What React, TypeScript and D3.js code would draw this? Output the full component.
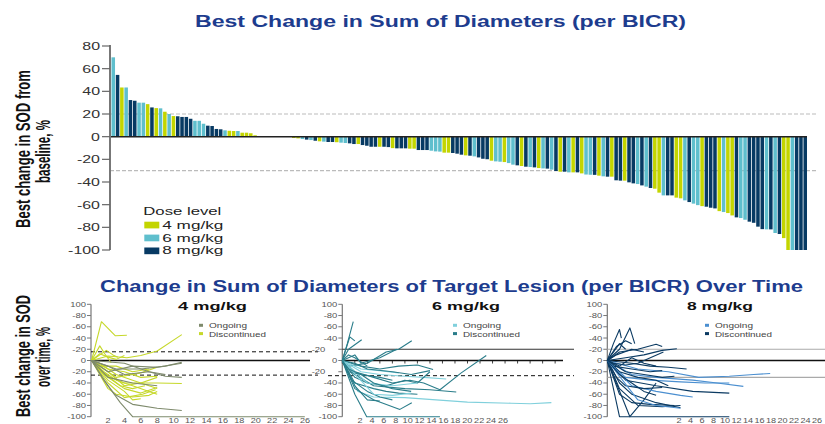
import React from 'react';
import * as d3 from 'd3';

const W = 825;
const H = 424;

// ---------- Top waterfall: best change in SOD (%) per patient, sorted ----------
const bestChange: number[] = [
  70, 54.5, 43.4, 43.4, 32.3, 31.7, 30, 30, 28.7, 25.8, 25.2, 25, 22, 20, 18.2, 18, 17.4, 17.4, 15.8, 14,
  14, 11.4, 9.7, 9.4, 6.8, 6.5, 5.6, 5.2, 5, 5, 3.5, 3.5, 3, 1.2,
  0, 0, 0, 0, 0, 0, 0, 0,
  -1.2, -1.5, -2.1, -2.6, -3, -3.6, -4.1, -4.4, -4.7, -4.7, -4.9, -5.3, -5.6, -5.9, -6.5, -6.5, -7.4, -8, -8.9, -8.9,
  -8.9, -8.9, -9.2, -10.1, -10.3, -10.3, -10.3, -10.6, -10.6, -11.8, -11.8, -11.8, -12.4, -13, -13.2, -14.1, -14.1,
  -14.4, -15, -15.9, -16.5, -16.8, -17.4, -18.3, -19.5, -19.9, -21.2, -21.8, -22.1, -22.4, -23.3, -24.7, -25.3, -25.9, -26.5, -26.8, -27.1,
  -27.7, -28, -28.2, -29.1, -30.3, -30.9, -30.9, -31.5, -31.5, -31.5, -32.4, -33.4, -33.6, -33.7, -34.4, -35, -35.3, -35.3, -38.5, -38.8,
  -38.8, -40.3,
  -41.2, -41.8, -43, -44.1, -45.3, -45.9, -49.4, -51.8, -51.8, -51.8, -53.8, -54.4, -56.2, -57.7, -59.1, -60.4, -61.3, -61.8, -62.7, -63.3,
  -65.7, -66.5, -67.4, -69.5, -71.2, -71.8, -73.3, -75, -76, -79.4, -81.6, -81.8, -81.8, -85, -85.9, -89.5, -100, -100, -100, -100, -100,
];
const doseMgKg: number[] = [
  6, 8, 4, 6, 8, 8, 6, 6, 4, 8, 4, 6, 4, 6, 4, 8, 8, 8, 8, 6,
  6, 6, 8, 8, 8, 8, 6, 4, 4, 6, 4, 4, 4, 4,
  4, 4, 4, 4, 4, 4, 4, 4,
  4, 4, 6, 8, 6, 8, 4, 6, 8, 8, 4, 6, 6, 8, 8, 4, 8, 8, 8, 8,
  4, 8, 8, 4, 8, 8, 8, 4, 4, 8, 8, 8, 6, 6, 6, 4, 4,
  8, 8, 8, 4, 8, 6, 8, 8, 8, 4, 6, 6, 4, 6, 6, 8, 4, 8, 6, 8,
  4, 6, 8, 6, 8, 4, 8, 6, 4, 8, 4, 6, 6, 8, 4, 6, 8, 4, 8, 8,
  4, 8,
  8, 6, 8, 6, 8, 4, 4, 6, 8, 8, 4, 4, 6, 8, 6, 6, 4, 8, 8, 8,
  4, 6, 4, 4, 8, 6, 6, 8, 8, 8, 8, 6, 8, 6, 8, 4, 4, 6, 8, 8, 8,
];
const doseLevels = [4, 6, 8];
const doseLabels = ['4 mg/kg', '6 mg/kg', '8 mg/kg'];
const topTicks = [80, 60, 40, 20, 0, -20, -40, -60, -80, -100];
const topRefLines = [20, -30];

// ---------- Bottom spaghetti plots (month, % change) ----------
type Line = { s: 'O' | 'D'; p: [number, number][] };
const lines4mg: Line[] = [
  { s: 'D', p: [[0, 0], [1.2, 69], [2.9, 44], [4.3, 45]] },
  { s: 'D', p: [[0, 0], [1, 26], [1.6, 12], [2.4, -4]] },
  { s: 'D', p: [[0, 0], [1.8, 18], [2.6, 10], [3.2, 6]] },
  { s: 'D', p: [[0, 0], [2, 8], [4.3, 5], [6, 9], [8, 17], [11, 46]] },
  { s: 'D', p: [[0, 0], [1, 12], [2, 6], [3, 2], [4, 9]] },
  { s: 'D', p: [[0, 0], [1.5, -20], [3, -35], [5, -45], [7, -55], [8, -60]] },
  { s: 'D', p: [[0, 0], [2, -30], [4, -50], [6, -58], [8, -48]] },
  { s: 'D', p: [[0, 0], [2, -40], [4, -66], [6.2, -60], [7.8, -52]] },
  { s: 'D', p: [[0, 0], [1.5, -25], [4, -40], [8, -40], [11, -41]] },
  { s: 'D', p: [[0, 0], [2, -15], [4, -20], [6, -30], [8, -28]] },
  { s: 'D', p: [[0, 0], [1, -10], [3, -10], [5, -20], [7, -15]] },
  { s: 'D', p: [[0, 0], [2, -50], [3, -60], [5, -65], [7, -62], [8, -55]] },
  { s: 'D', p: [[0, 0], [2, -20], [4, -45], [6, -40], [8, -30]] },
  { s: 'D', p: [[0, 0], [3, -30], [6, -22], [8, -12]] },
  { s: 'D', p: [[0, 0], [2, -35], [4, -55], [5, -70], [6, -68]] },
  { s: 'D', p: [[0, 0], [1, -5], [3, -25], [5, -35], [7, -45], [8, -50]] },
  { s: 'D', p: [[0, 0], [2, -28], [3.5, -45], [5, -50], [6.5, -45]] },
  { s: 'O', p: [[0, 0], [2, -45], [3.5, -75], [5, -100], [26, -100]] },
  { s: 'O', p: [[0, 0], [1.5, -35], [2.8, -60], [5, -78], [8, -85], [11, -89]] },
  { s: 'O', p: [[0, 0], [2, -20], [5, -10], [8, -12], [11, -5]] },
  { s: 'O', p: [[0, 0], [2, -10], [4, -25], [7, -20], [9, -28], [11, -30]] },
  { s: 'O', p: [[0, 0], [3, -15], [6, -15], [9, -10], [11, -3]] },
  { s: 'O', p: [[0, 0], [2, -30], [5, -40], [8, -45]] },
  { s: 'O', p: [[0, 0], [4, -5], [7, -20], [9, -25]] },
];
const lines6mg: Line[] = [
  { s: 'D', p: [[0, 0], [0.8, 30], [1.75, 69]] },
  { s: 'D', p: [[0, 0], [1.2, 42], [2, 35]] },
  { s: 'D', p: [[0, 0], [1, 20], [3.1, 37]] },
  { s: 'D', p: [[0, 0], [2, 10], [3, -5], [6, 5], [8.7, 20]] },
  { s: 'D', p: [[0, 0], [1, -10], [4, -5], [7, 15], [9, 20], [11.1, 35]] },
  { s: 'D', p: [[0, 0], [2, -20], [5, -30], [8, -40], [10.8, -35], [13, -40], [15.6, -52], [19, -22], [23, 9]] },
  { s: 'D', p: [[0, 0], [2, -25], [5, -45], [10, -50], [14, -52], [18.2, -56]] },
  { s: 'O', p: [[0, 0], [2.5, -55], [5, -65], [10, -66], [15, -70], [20, -74], [27, -76], [30, -77], [33.4, -75]] },
  { s: 'O', p: [[0, 0], [3, -20], [6, -25], [10, -28], [13, -30], [16.6, -33]] },
  { s: 'D', p: [[0, 0], [2, -60], [3.9, -100], [15.6, -100]] },
  { s: 'D', p: [[0, 0], [2, -50], [5, -70], [9.2, -87], [11.1, -75]] },
  { s: 'D', p: [[0, 0], [1.5, -35], [4, -55], [6, -65], [8, -70]] },
  { s: 'D', p: [[0, 0], [3, -10], [6, -15], [9, -10], [12, -8], [14.5, -16]] },
  { s: 'D', p: [[0, 0], [2, -30], [4, -40], [7, -45], [10, -35], [12, -40], [14, -20]] },
  { s: 'O', p: [[0, 0], [4, -40], [8, -45], [12, -40]] },
  { s: 'O', p: [[0, 0], [3, -15], [6, -18], [9, -22]] },
  { s: 'D', p: [[0, 0], [2, -40], [5, -50], [7, -55], [9, -58], [12, -60]] },
  { s: 'D', p: [[0, 0], [1, -20], [3, -25], [6, -30], [8, -35]] },
  { s: 'D', p: [[0, 0], [1, 10], [2, 5], [4, -10]] },
  { s: 'D', p: [[0, 0], [2, -5], [4, -15], [8, -20], [11, -25], [14, -18]] },
  { s: 'O', p: [[0, 0], [5, -60], [8, -62], [11, -58]] },
  { s: 'D', p: [[0, 0], [2, -45], [4, -70], [6, -72]] },
  { s: 'D', p: [[0, 0], [1, -15], [3, -25], [5, -40], [8, -50], [11, -55]] },
];
const lines8mg: Line[] = [
  { s: 'D', p: [[0, 0], [1, 30], [2, 55], [2.3, 40]] },
  { s: 'D', p: [[0, 0], [2, 20], [3.7, 58], [4.5, 30]] },
  { s: 'D', p: [[0, 0], [1.5, 25], [3, 35], [4, 30]] },
  { s: 'D', p: [[0, 0], [2, 15], [5, 20], [8, 29], [9, 25]] },
  { s: 'D', p: [[0, 0], [3, 5], [6, 10], [9, 18], [11.4, 21]] },
  { s: 'D', p: [[0, 0], [1.5, 10], [4, 20], [6, 15]] },
  { s: 'D', p: [[0, 0], [2, -100], [20, -100]] },
  { s: 'D', p: [[0, 0], [3.7, -100], [6, -70], [8, -40]] },
  { s: 'D', p: [[0, 0], [2, -40], [4, -60], [8, -75], [12, -84]] },
  { s: 'D', p: [[0, 0], [2, -50], [5, -80], [9, -82], [12, -80]] },
  { s: 'O', p: [[0, 0], [5, -15], [10, -20], [15, -30], [20, -28], [24, -25], [26.7, -23]] },
  { s: 'O', p: [[0, 0], [4, -25], [8, -30], [14, -35], [18, -40], [22.3, -46]] },
  { s: 'O', p: [[0, 0], [3, -30], [7, -35], [12, -38], [16, -40], [20, -40]] },
  { s: 'D', p: [[0, 0], [3, -35], [8, -45], [14, -55], [20, -58]] },
  { s: 'D', p: [[0, 0], [2, -20], [5, -30], [8, -35], [10, -45]] },
  { s: 'D', p: [[0, 0], [1, -10], [4, -15], [7, -20], [9, -18]] },
  { s: 'D', p: [[0, 0], [2, -60], [4, -75], [7, -78], [11, -80]] },
  { s: 'O', p: [[0, 0], [4, -45], [8, -55], [12, -62], [14, -65]] },
  { s: 'D', p: [[0, 0], [3, -20], [6, -25], [9, -30], [11, -28]] },
  { s: 'D', p: [[0, 0], [2, -10], [4, 5], [6, -5], [8, -10]] },
  { s: 'D', p: [[0, 0], [1.5, -30], [3, -45], [6, -50], [9, -48]] },
  { s: 'D', p: [[0, 0], [1, -5], [3, -8], [5, -5], [9.2, 15]] },
  { s: 'O', p: [[0, 0], [5, -70], [8, -80], [12, -85]] },
  { s: 'D', p: [[0, 0], [2, -25], [4, -40], [6, -55], [8, -62]] },
  { s: 'D', p: [[0, 0], [1, 15], [2, 30], [3, 20]] },
  { s: 'D', p: [[0, 0], [4, -5], [7, -10], [10, -12], [13, -15]] },
];
const panelYTicks = [100, 80, 60, 40, 20, 0, -20, -40, -60, -80, -100];
const panelYTickLabels = ['100', '-80', '-60', '-40', '-20', '0', '-20', '-40', '-60', '-80', '-100'];
const panelXTicks = [2, 4, 6, 8, 10, 12, 14, 16, 18, 20, 22, 24, 26];
const statusLabels = ['Ongoing', 'Discontinued'];

// ---------- styling ----------
const FONT = 'Liberation Sans, Arial, Helvetica, sans-serif';
const SX = 1.45;
const doseColor: Record<number, string> = { 4: '#c3d500', 6: '#5fbfcd', 8: '#073a63' };
const TITLE_BLUE = '#1d3c8e';

function T(props: {
  x: number; y: number; size: number; children: React.ReactNode; anchor?: string; weight?: string | number;
  fill?: string; sx?: number; rot?: number; len?: number;
}) {
  const { x, y, size, children, anchor = 'start', weight = 'normal', fill = '#222', sx = SX, rot = 0, len } = props;
  const tr = `translate(${x},${y}) scale(${sx},1)` + (rot ? ` rotate(${rot})` : '');
  return (
    <text
      transform={tr}
      fontSize={size}
      textAnchor={anchor as any}
      fontWeight={weight as any}
      fill={fill}
      fontFamily={FONT}
      textLength={len}
      lengthAdjust={len ? 'spacingAndGlyphs' : undefined}
    >
      {children}
    </text>
  );
}

type PanelCfg = {
  title: string; lines: Line[]; axisX: number; x0: number; pxPerMonth: number;
  lab0: number; lab1: number; colO: string; colD: string;
  titleX: number; titleLen: number; legX: number;
};

const yP = d3.scaleLinear().domain([-100, 100]).range([416.7, 304.3]);

function Panel({ cfg, idx }: { cfg: PanelCfg; idx: number }) {
  const x = d3.scaleLinear().domain([0, 1]).range([cfg.x0, cfg.x0 + cfg.pxPerMonth]);
  const xl = d3.scaleLinear().domain([2, 26]).range([cfg.lab0, cfg.lab1]);
  const line = d3.line<[number, number]>().x((d) => x(d[0])).y((d) => yP(d[1]));
  const ax = cfg.axisX;
  return (
    <g>
      {/* y axis */}
      <line x1={ax} x2={ax} y1={yP(100)} y2={yP(-100)} stroke="#777" strokeWidth={1.2} />
      {panelYTicks.map((t, i) => (
        <g key={i}>
          <line x1={ax - 4} x2={ax} y1={yP(t)} y2={yP(t)} stroke="#777" strokeWidth={1} />
          <T x={idx === 1 && (t === 20 || t === -20) ? ax - 17 : ax - 5} y={yP(t) + 2.5} size={7} anchor="end" fill="#555" sx={1.35}>
            {panelYTickLabels[i]}
          </T>
        </g>
      ))}
      {/* x tick labels */}
      {panelXTicks.map((t) => (
        <T key={t} x={xl(t)} y={423} size={7} anchor="middle" fill="#555" sx={1.3}>
          {String(t)}
        </T>
      ))}
      {/* reference lines */}
      {idx === 0 && (
        <g>
          <line x1={ax} x2={318} y1={yP(15.5)} y2={yP(15.5)} stroke="#111" strokeWidth={1} strokeDasharray="4,3" />
          <line x1={ax} x2={318} y1={yP(-26)} y2={yP(-26)} stroke="#111" strokeWidth={1} strokeDasharray="4,3" />
          <line x1={ax} x2={310} y1={yP(0)} y2={yP(0)} stroke="#111" strokeWidth={1.3} />
        </g>
      )}
      {idx === 1 && (
        <g>
          <line x1={ax} x2={574} y1={yP(20)} y2={yP(20)} stroke="#333" strokeWidth={1.1} />
          <line x1={328} x2={574} y1={yP(-27)} y2={yP(-27)} stroke="#111" strokeWidth={1} strokeDasharray="4,3" />
          <line x1={ax} x2={563} y1={yP(0)} y2={yP(0)} stroke="#111" strokeWidth={1.3} />
          {d3.range(0, 36, 2).map((m) => (
            <line key={m} x1={x(m)} x2={x(m)} y1={yP(0)} y2={yP(0) + 3} stroke="#111" strokeWidth={0.8} />
          ))}
        </g>
      )}
      {idx === 2 && (
        <g>
          <line x1={ax} x2={825} y1={yP(20)} y2={yP(20)} stroke="#aaa" strokeWidth={1.1} />
          <line x1={ax} x2={825} y1={yP(-30)} y2={yP(-30)} stroke="#aaa" strokeWidth={1.1} />
          <line x1={ax} x2={825} y1={yP(0)} y2={yP(0)} stroke="#111" strokeWidth={1.3} />
        </g>
      )}
      {/* patient lines */}
      {cfg.lines.map((l, i) => (
        <path key={i} d={line(l.p) || ''} fill="none" stroke={l.s === 'O' ? cfg.colO : cfg.colD} strokeWidth={1.1} strokeLinejoin="round" />
      ))}
      {/* title */}
      <T x={cfg.titleX} y={310} size={11.5} weight="bold" fill="#111" sx={1} len={cfg.titleLen}>
        {cfg.title}
      </T>
      {/* legend */}
      {statusLabels.map((s, i) => (
        <g key={s}>
          <rect x={cfg.legX} y={323.8 + i * 8.3} width={4} height={3} fill={i === 0 ? cfg.colO : cfg.colD} />
          <T x={cfg.legX + 10} y={328.3 + i * 8.3} size={8} fill="#444" sx={1} len={i === 0 ? 38 : 57}>
            {s}
          </T>
        </g>
      ))}
    </g>
  );
}

const panels: PanelCfg[] = [
  { title: '4 mg/kg', lines: lines4mg, axisX: 91, x0: 91.6, pxPerMonth: 8.2, lab0: 108, lab1: 305, colO: '#7e8a6c', colD: '#c6d82a', titleX: 178, titleLen: 69, legX: 199 },
  { title: '6 mg/kg', lines: lines6mg, axisX: 342.3, x0: 342.3, pxPerMonth: 6.26, lab0: 360, lab1: 503, colO: '#80d0dc', colD: '#2a7d8a', titleX: 432, titleLen: 68, legX: 453 },
  { title: '8 mg/kg', lines: lines8mg, axisX: 607.3, x0: 607.3, pxPerMonth: 6.1, lab0: 679, lab1: 817, colO: '#4b8fd0', colD: '#0b3a62', titleX: 687, titleLen: 66, legX: 705 },
];

export default function App() {
  const N = bestChange.length;
  const xTop = d3.scaleBand<number>().domain(d3.range(N)).range([111.5, 807]).paddingInner(0.18).paddingOuter(0);
  const yTop = d3.scaleLinear().domain([-100, 80]).range([250, 46]);
  const y0 = yTop(0);
  return (
    <svg width={W} height={H} viewBox={`0 0 ${W} ${H}`} style={{ position: 'absolute', left: 0, top: 0, background: '#fff' }}>
      <rect width={W} height={H} fill="#fff" />
      {/* ===== top chart ===== */}
      <T x={195} y={26.5} size={16} weight="bold" fill={TITLE_BLUE} sx={1} len={491}>
        Best Change in Sum of Diameters (per BICR)
      </T>
      <T x={30} y={149} size={14} weight="bold" fill="#111" rot={-90} anchor="middle" len={158}>
        Best change in SOD from
      </T>
      <T x={50} y={151.5} size={14} weight="bold" fill="#111" rot={-90} anchor="middle" len={63}>
        baseline, %
      </T>
      {topRefLines.map((r) => (
        <line key={r} x1={110} x2={818} y1={yTop(r)} y2={yTop(r)} stroke="#bbb" strokeWidth={1.2} strokeDasharray="4,2" />
      ))}
      {bestChange.map((v, i) =>
        v === 0 ? null : (
          <rect
            key={i}
            x={xTop(i)}
            y={v > 0 ? yTop(v) : y0}
            width={xTop.bandwidth()}
            height={Math.abs(yTop(v) - y0)}
            fill={doseColor[doseMgKg[i]]}
          />
        )
      )}
      <line x1={110} x2={807} y1={y0} y2={y0} stroke="#222" strokeWidth={1.5} />
      <line x1={110} x2={110} y1={45} y2={250} stroke="#777" strokeWidth={2} />
      {topTicks.map((t) => (
        <g key={t}>
          <line x1={102} x2={110} y1={yTop(t)} y2={yTop(t)} stroke="#666" strokeWidth={1.2} />
          <T x={100} y={yTop(t) + 4} size={11} anchor="end" fill="#333">
            {String(t)}
          </T>
        </g>
      ))}
      {/* legend */}
      <T x={143.3} y={215} size={11.5} fill="#222" sx={1} len={78}>
        Dose level
      </T>
      {doseLevels.map((d, i) => (
        <g key={d}>
          <rect x={144.3} y={221.7 + i * 12.9} width={15} height={6.7} fill={doseColor[d]} />
          <T x={162.3} y={228.6 + i * 12.9} size={11.5} fill="#222" sx={1} len={61}>
            {doseLabels[i]}
          </T>
        </g>
      ))}

      {/* ===== bottom chart ===== */}
      <T x={100} y={291.7} size={16} weight="bold" fill={TITLE_BLUE} sx={1} len={703}>
        Change in Sum of Diameters of Target Lesion (per BICR) Over Time
      </T>
      <T x={30} y={356} size={14} weight="bold" fill="#111" rot={-90} anchor="middle" len={122}>
        Best change in SOD
      </T>
      <T x={50} y={357} size={14} weight="bold" fill="#111" rot={-90} anchor="middle" len={60}>
        over time, %
      </T>
      {panels.map((p, i) => (
        <Panel key={i} cfg={p} idx={i} />
      ))}
    </svg>
  );
}
